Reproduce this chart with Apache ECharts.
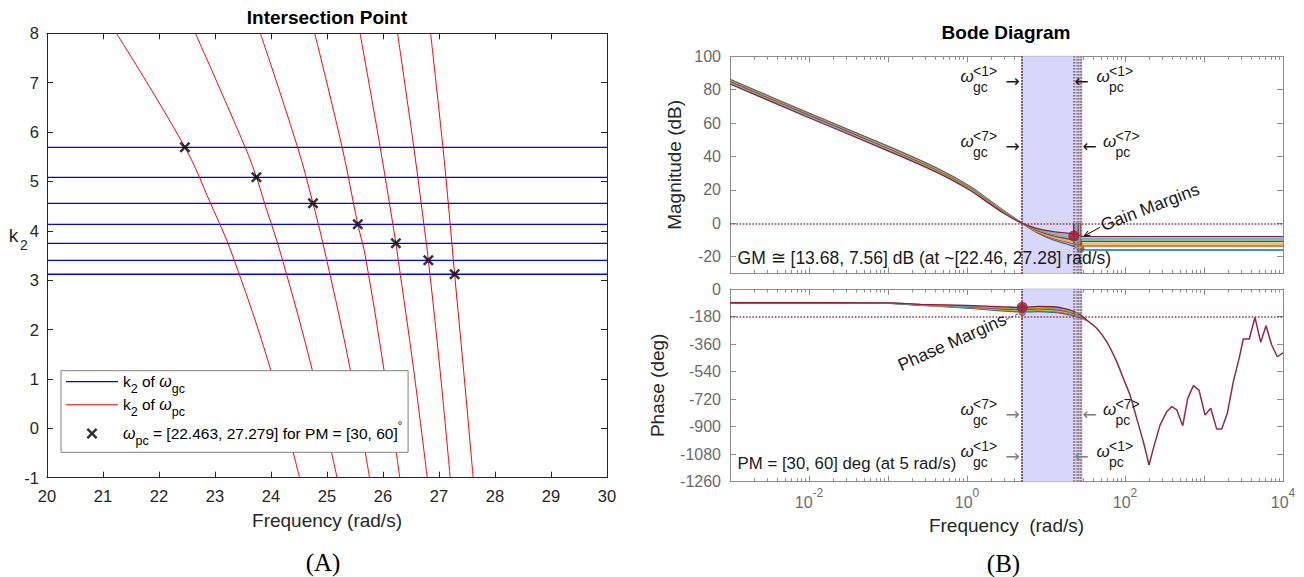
<!DOCTYPE html>
<html><head><meta charset="utf-8">
<script src="https://cdn.jsdelivr.net/npm/echarts@6/dist/echarts.min.js"></script>
<style>html,body{margin:0;padding:0;background:#fff}#c{width:1304px;height:577px}</style>
</head><body><div id="c"></div>
<script>
// ================= Panel (A) data =================
const k2Gc = [5.691, 5.084, 4.557, 4.132, 3.747, 3.403, 3.120];           // k2 of w_gc (horizontal lines)
const wpcMarks = [22.463, 23.74, 24.75, 25.55, 26.23, 26.81, 27.279];     // intersection frequencies
const pcCurve1 = [[21.24,8],[22.463,5.691],[22.92,4.557],[23.31,3.51],[24.0,1.167],[24.51,-1]];
const pcCurve2 = [[22.65,8],[23.54,5.69],[23.74,5.084],[23.886,4.557],[24.18,3.51],[24.74,1.167],[25.18,-1]];
const pcCurve3 = [[23.81,8],[24.475,5.69],[24.75,4.557],[24.975,3.51],[25.42,1.167],[25.76,-1]];
const pcCurve4 = [[24.78,8],[25.27,5.69],[25.55,4.132],[25.68,3.51],[26.02,1.167],[26.30,-1]];
const pcCurve5 = [[25.59,8],[25.95,5.69],[26.23,3.747],[26.26,3.51],[26.55,1.167],[26.79,-1]];
const pcCurve6 = [[26.26,8],[26.55,5.69],[26.73,4.13],[26.81,3.403],[27.02,1.167],[27.20,-1]];
const pcCurve7 = [[26.85,8],[27.07,5.69],[27.20,4.13],[27.279,3.12],[27.44,1.167],[27.61,-1]];
const pcCurves = [pcCurve1, pcCurve2, pcCurve3, pcCurve4, pcCurve5, pcCurve6, pcCurve7];
const freqTicksA = [20,21,22,23,24,25,26,27,28,29,30];
const k2TicksA = [-1,0,1,2,3,4,5,6,7,8];

// ================= Panel (B) data =================
const sysColors = ['#0072BD','#D95319','#EDB120','#7E2F8E','#77AC30','#4DBEEE','#A2142F'];
const magFreq = [0.001, 0.01, 0.1, 0.41, 1.09, 1.77, 2.88, 5, 7.6, 12.4, 20.2, 25, 30, 40, 100, 1000, 10000];
const mag1 = [86.2, 66.0, 46.2, 33.2, 22.2, 15.0, 7.8, 0, -5.5, -10.0, -13.0, -14.6, -15.8, -16.0, -16.0, -16.0, -16.0];
const mag2 = [85.7, 65.5, 45.7, 32.8, 21.8, 14.7, 7.5, 0, -5.1, -9.2, -11.9, -13.0, -13.6, -13.6, -13.6, -13.6, -13.6];
const mag3 = [85.3, 65.1, 45.3, 32.3, 21.4, 14.3, 7.3, 0, -4.7, -8.4, -10.8, -11.8, -12.4, -12.4, -12.4, -12.4, -12.4];
const mag4 = [84.8, 64.6, 44.8, 31.9, 21.0, 14.0, 7.0, 0, -4.2, -7.5, -9.6, -10.4, -11.0, -11.0, -11.0, -11.0, -11.0];
const mag5 = [84.3, 64.1, 44.3, 31.5, 20.6, 13.7, 6.7, 0, -3.8, -6.7, -8.4, -9.3, -10.0, -10.0, -10.0, -10.0, -10.0];
const mag6 = [83.9, 63.7, 43.9, 31.0, 20.2, 13.3, 6.5, 0, -3.4, -5.8, -7.2, -8.1, -9.0, -9.0, -9.0, -9.0, -9.0];
const mag7 = [83.4, 63.2, 43.4, 30.6, 19.8, 13.0, 6.2, 0, -3.0, -5.0, -6.0, -7.0, -7.9, -8.0, -8.0, -8.0, -8.0];
const magVals = [mag1, mag2, mag3, mag4, mag5, mag6, mag7];

const phaseFreq = [0.001, 0.01, 0.05, 0.1, 0.26, 1, 3, 5, 8, 12.4, 16.7, 22, 28.2, 32.7];
const ph1 = [-90, -90, -90.5, -93, -107, -125, -145, -150, -148, -153, -161, -174, -192, -203];
const ph2 = [-90, -90, -90.4, -92.7, -105.8, -122, -140, -145, -142, -147, -155, -169, -189, -203];
const ph3 = [-90, -90, -90.4, -92.3, -104.7, -119, -136, -140, -136, -141, -149, -164, -186, -203];
const ph4 = [-90, -90, -90.3, -92, -103.5, -116.5, -131, -135, -130.5, -135, -143.5, -159, -183, -203];
const ph5 = [-90, -90, -90.3, -91.7, -102.3, -114, -126, -130, -125, -129, -138, -154, -180, -203];
const ph6 = [-90, -90, -90.2, -91.3, -101.2, -111, -122, -125, -119, -122, -132, -149, -177, -203];
const ph7 = [-90, -90, -90.2, -91, -100, -108, -117, -120, -113, -116, -126, -144, -174, -203];
const phaseVals = [ph1, ph2, ph3, ph4, ph5, ph6, ph7];
// common high-frequency phase (all systems coincide)
const tailFreqA = [32.7, 43.8, 58.6, 78.5, 95.1, 115.6, 140.6, 170.6, 201.4];
const tailPhaseA = [-203, -257, -344, -475, -584, -693, -846, -999, -1151];
const tailFreqB = [201.4, 228.5, 277.5, 337.3, 390.6, 451.6, 538.3, 622.4, 734.5, 865.6, 1031, 1217, 1449, 1676, 1973, 2350, 2799, 3143, 3743, 4421, 5224, 6095, 7195, 8469, 10000];
const tailPhaseB = [-1151, -1042, -890, -802, -769, -790, -894, -715, -632, -661, -824, -780, -916, -916, -813, -606, -449, -327, -327, -185, -349, -240, -366, -443, -417];

const gmFreq = [27.279, 26.81, 26.23, 25.55, 24.75, 23.74, 22.463];
const gmVal  = [-15.4, -14.0, -12.9, -11.6, -10.4, -9.1, -7.56];
const pmFreq = [5, 5, 5, 5, 5, 5, 5];
const pmVal  = [-150, -145, -140, -135, -130, -125, -120];
const bandFreq = [5, 28.5];

const magTickVals = [-20, 0, 20, 40, 60, 80, 100];
const phaseTickVals = [-1260, -1080, -900, -720, -540, -360, -180, 0];
const decadeTicks = [0.001, 0.01, 0.1, 1, 10, 100, 1000, 10000];
const freqLabelVals = [0.01, 1, 100, 10000];
const minorTicks = [];
for (let e = -3; e < 4; e++) for (let m = 2; m <= 9; m++) minorTicks.push(+(m * Math.pow(10, e)).toPrecision(3));

// ================= styling =================
const FF = '"Liberation Sans", Arial, Helvetica, sans-serif';
const DARK = '#262626';
const GRAYAX = '#8c8c8c';
const GRAYLB = '#6b6b6b';
const REFDOT = '#8b3a50';

const chart = echarts.init(document.getElementById('c'), null, {renderer: 'svg', width: 1304, height: 577});

const grids = [
  {left: 47, top: 33.3, width: 560, height: 444.4, outerBoundsMode: 'none'},
  {left: 730, top: 56.3, width: 553, height: 217.1, outerBoundsMode: 'none'},
  {left: 730, top: 289, width: 553, height: 192.7, outerBoundsMode: 'none'}
];

function logAxis(grid, pos, minor, withLabels) {
  const ax = {
    gridIndex: grid, type: 'log', logBase: 10, min: 0.001, max: 10000, position: pos,
    axisLine: {show: !minor, onZero: false, lineStyle: {color: GRAYAX, width: 1}},
    axisTick: {show: true, inside: true, length: minor ? 3.5 : 6, customValues: minor ? minorTicks : decadeTicks,
               lineStyle: {color: GRAYAX, width: 1}},
    axisLabel: {show: false},
    splitLine: {show: false}, minorTick: {show: false}, minorSplitLine: {show: false}
  };
  if (withLabels) {
    ax.axisLabel = {
      show: true, customValues: freqLabelVals, margin: 5,
      formatter: v => '{b|10}{s|' + Math.round(Math.log10(v)) + '}',
      rich: {
        b: {fontSize: 16, fontFamily: FF, color: GRAYLB, lineHeight: 31},
        s: {fontSize: 12, fontFamily: FF, color: GRAYLB, verticalAlign: 'top'}
      }
    };
    ax.name = 'Frequency  (rad/s)';
    ax.nameLocation = 'middle';
    ax.nameGap = 34;
    ax.nameTextStyle = {fontSize: 19, fontFamily: FF, color: DARK};
  }
  return ax;
}

const plain = v => String(v);

const xAxes = [
  {gridIndex: 0, type: 'value', min: 20, max: 30, interval: 1, position: 'bottom',
   axisLine: {onZero: false, lineStyle: {color: DARK}}, axisTick: {inside: true, length: 6, lineStyle: {color: DARK}},
   axisLabel: {margin: 10, fontSize: 16.5, fontFamily: FF, color: DARK, customValues: freqTicksA, formatter: plain},
   splitLine: {show: false},
   name: 'Frequency (rad/s)', nameLocation: 'middle', nameGap: 33,
   nameTextStyle: {fontSize: 19, fontFamily: FF, color: DARK}},
  {gridIndex: 0, type: 'value', min: 20, max: 30, interval: 1, position: 'top',
   axisLine: {onZero: false, lineStyle: {color: DARK}}, axisTick: {inside: true, length: 6, lineStyle: {color: DARK}},
   axisLabel: {show: false}, splitLine: {show: false}},
  logAxis(1, 'bottom', false, false),
  logAxis(1, 'top', false, false),
  logAxis(1, 'bottom', true, false),
  logAxis(1, 'top', true, false),
  logAxis(2, 'bottom', false, true),
  logAxis(2, 'top', false, false),
  logAxis(2, 'bottom', true, false),
  logAxis(2, 'top', true, false)
];

const yAxes = [
  {gridIndex: 0, type: 'value', min: -1, max: 8, interval: 1, position: 'left',
   axisLine: {onZero: false, lineStyle: {color: DARK}}, axisTick: {inside: true, length: 6, lineStyle: {color: DARK}},
   axisLabel: {margin: 8, fontSize: 16.5, fontFamily: FF, color: DARK, customValues: k2TicksA, formatter: plain},
   splitLine: {show: false}},
  {gridIndex: 0, type: 'value', min: -1, max: 8, interval: 1, position: 'right',
   axisLine: {onZero: false, lineStyle: {color: DARK}}, axisTick: {inside: true, length: 6, lineStyle: {color: DARK}},
   axisLabel: {show: false}, splitLine: {show: false}},
  {gridIndex: 1, type: 'value', min: -30, max: 100, position: 'left',
   axisLine: {onZero: false, lineStyle: {color: GRAYAX}},
   axisTick: {inside: true, length: 6, customValues: magTickVals, lineStyle: {color: GRAYAX}},
   axisLabel: {margin: 9, fontSize: 16, fontFamily: FF, color: GRAYLB, customValues: magTickVals, formatter: plain},
   splitLine: {show: false},
   name: 'Magnitude (dB)', nameLocation: 'middle', nameGap: 46,
   nameTextStyle: {fontSize: 19, fontFamily: FF, color: DARK}},
  {gridIndex: 1, type: 'value', min: -30, max: 100, position: 'right',
   axisLine: {onZero: false, lineStyle: {color: GRAYAX}},
   axisTick: {inside: true, length: 6, customValues: magTickVals, lineStyle: {color: GRAYAX}},
   axisLabel: {show: false}, splitLine: {show: false}},
  {gridIndex: 2, type: 'value', min: -1260, max: 0, interval: 180, position: 'left',
   axisLine: {onZero: false, lineStyle: {color: GRAYAX}},
   axisTick: {inside: true, length: 6, lineStyle: {color: GRAYAX}},
   axisLabel: {margin: 9, fontSize: 16, fontFamily: FF, color: GRAYLB, customValues: phaseTickVals, formatter: plain},
   splitLine: {show: false},
   name: 'Phase (deg)', nameLocation: 'middle', nameGap: 63,
   nameTextStyle: {fontSize: 19, fontFamily: FF, color: DARK}},
  {gridIndex: 2, type: 'value', min: -1260, max: 0, interval: 180, position: 'right',
   axisLine: {onZero: false, lineStyle: {color: GRAYAX}},
   axisTick: {inside: true, length: 6, lineStyle: {color: GRAYAX}},
   axisLabel: {show: false}, splitLine: {show: false}}
];

const GC_NAME = 'k2 of ωgc';
const PC_NAME = 'k2 of ωpc';
const MARK_NAME = 'ωpc = [22.463, 27.279] for PM = [30, 60]°';
const XPATH = 'path://M0,1.6 L1.6,0 L5,3.4 L8.4,0 L10,1.6 L6.6,5 L10,8.4 L8.4,10 L5,6.6 L1.6,10 L0,8.4 L3.4,5 Z';
const LINEICON = 'path://M0,0 L52,0 L52,1.2 L0,1.2 Z';

const series = [];
// ---- panel A
k2Gc.forEach(k => series.push({
  type: 'line', name: GC_NAME, xAxisIndex: 0, yAxisIndex: 0, data: [[20, k], [30, k]],
  symbol: 'none', lineStyle: {color: '#0000ff', width: 1.3}, itemStyle: {color: '#0000ff'}, z: 2, silent: true
}));
pcCurves.forEach(c => series.push({
  type: 'line', name: PC_NAME, xAxisIndex: 0, yAxisIndex: 0, data: c, smooth: 0.4,
  symbol: 'none', lineStyle: {color: '#ff0000', width: 1}, itemStyle: {color: '#ff0000'}, z: 2, silent: true
}));
series.push({
  type: 'scatter', name: MARK_NAME, xAxisIndex: 0, yAxisIndex: 0,
  data: wpcMarks.map((f, i) => [f, k2Gc[i]]), symbol: XPATH, symbolSize: 11,
  itemStyle: {color: '#000'}, z: 5, silent: true
});

// ---- panel B helpers: shaded band + reference lines
series.push({
  type: 'line', name: 'bandMag', xAxisIndex: 2, yAxisIndex: 2, data: [], z: 1, silent: true,
  markArea: {silent: true, itemStyle: {color: '#d7d7fb', borderColor: '#c4c4dc', borderWidth: 1},
             data: [[{xAxis: bandFreq[0]}, {xAxis: bandFreq[1]}]]},
  markLine: {silent: true, symbol: 'none', label: {show: false}, animation: false,
             lineStyle: {color: REFDOT, type: 'dotted', width: 1.6}, data: [{yAxis: 0}]}
});
series.push({
  type: 'line', name: 'bandPh', xAxisIndex: 6, yAxisIndex: 4, data: [], z: 1, silent: true,
  markArea: {silent: true, itemStyle: {color: '#d7d7fb', borderColor: '#c4c4dc', borderWidth: 1},
             data: [[{xAxis: bandFreq[0]}, {xAxis: bandFreq[1]}]]},
  markLine: {silent: true, symbol: 'none', label: {show: false}, animation: false,
             lineStyle: {color: REFDOT, type: 'dotted', width: 1.6}, data: [{yAxis: -180}]}
});

sysColors.forEach((col, i) => {
  const ml = {silent: true, symbol: 'none', label: {show: false}, animation: false,
              lineStyle: {color: col, type: 'dotted', width: 1.5, opacity: 0.85},
              data: [{xAxis: pmFreq[i]}, {xAxis: gmFreq[i]}]};
  series.push({
    type: 'line', name: 'mag' + (i + 1), xAxisIndex: 2, yAxisIndex: 2,
    data: magFreq.map((f, j) => [f, magVals[i][j]]), smooth: 0.3,
    symbol: 'none', lineStyle: {color: col, width: 1.3}, itemStyle: {color: col}, z: 3, silent: true,
    markLine: ml
  });
  series.push({
    type: 'line', name: 'ph' + (i + 1), xAxisIndex: 6, yAxisIndex: 4,
    data: phaseFreq.map((f, j) => [f, phaseVals[i][j]]), smooth: 0.3,
    symbol: 'none', lineStyle: {color: col, width: 1.3}, itemStyle: {color: col}, z: 3, silent: true,
    markLine: ml
  });
  series.push({
    type: 'line', name: 'gmLine' + (i + 1), xAxisIndex: 2, yAxisIndex: 2,
    data: [[gmFreq[i], 0], [gmFreq[i], gmVal[i]]], symbol: 'none',
    lineStyle: {color: col, width: 1.5}, z: 3, silent: true
  });
});
series.push({
  type: 'line', name: 'phTailA', xAxisIndex: 6, yAxisIndex: 4,
  data: tailFreqA.map((f, j) => [f, tailPhaseA[j]]), smooth: 0.3, symbol: 'none',
  lineStyle: {color: '#922a4a', width: 1.5}, z: 3, silent: true
});
series.push({
  type: 'line', name: 'phTailB', xAxisIndex: 6, yAxisIndex: 4,
  data: tailFreqB.map((f, j) => [f, tailPhaseB[j]]), symbol: 'none',
  lineStyle: {color: '#922a4a', width: 1.5}, z: 3, silent: true
});
// margin markers
series.push({
  type: 'scatter', name: 'gmMarks', xAxisIndex: 2, yAxisIndex: 2, z: 4, silent: true, symbolSize: 8,
  data: gmFreq.slice(0, 6).map((f, i) => ({value: [f, gmVal[i]], itemStyle: {color: sysColors[i]}}))
});
series.push({
  type: 'scatter', name: 'gmBig', xAxisIndex: 2, yAxisIndex: 2, z: 5, silent: true, symbolSize: 11,
  data: [[gmFreq[6], gmVal[6]]], itemStyle: {color: sysColors[6]}
});
series.push({
  type: 'scatter', name: 'pmMarks', xAxisIndex: 6, yAxisIndex: 4, z: 4, silent: true, symbolSize: 8,
  data: pmFreq.slice(0, 6).map((f, i) => ({value: [f, pmVal[i]], itemStyle: {color: sysColors[i]}}))
});
series.push({
  type: 'scatter', name: 'pmBig', xAxisIndex: 6, yAxisIndex: 4, z: 5, silent: true, symbolSize: 11,
  data: [[pmFreq[6], pmVal[6]]], itemStyle: {color: sysColors[6]}
});

// ---- text annotations
const el = [];
function txt(x, y, text, size, o) {
  o = o || {};
  el.push({type: 'text', x: x, y: y, rotation: o.rot || 0, z: 100, silent: true,
    style: {text: text, fontSize: size, fontFamily: o.ff || FF, fontStyle: o.fs || 'normal',
            fontWeight: o.fw || 'normal', fill: o.fill || '#1a1a1a', align: o.align || 'left', verticalAlign: 'middle'}});
}
function omegaLab(xw, W, sup, sub) {
  txt(xw, W, 'ω', 17, {fs: 'italic'});
  txt(xw + 12.5, W - 5.2, sup, 14);
  txt(xw + 12.5, W + 10.2, sub, 14);
}
const ARF = '"DejaVu Sans", sans-serif';
// magnitude annotations
omegaLab(960.5, 76.3, '<1>', 'gc');
txt(1012.5, 80.7, '→', 17, {ff: ARF, align: 'center'});
txt(1081.5, 80.7, '←', 17, {ff: ARF, align: 'center'});
omegaLab(1096.5, 76.3, '<1>', 'pc');
omegaLab(960.5, 141.6, '<7>', 'gc');
txt(1012.5, 146, '→', 17, {ff: ARF, align: 'center'});
txt(1089.5, 146, '←', 17, {ff: ARF, align: 'center'});
omegaLab(1103, 141.6, '<7>', 'pc');
// phase annotations
omegaLab(960.5, 409.6, '<7>', 'gc');
txt(1012.5, 414, '→', 17, {ff: ARF, align: 'center', fill: '#7f7f7f'});
txt(1089.5, 414, '←', 17, {ff: ARF, align: 'center', fill: '#7f7f7f'});
omegaLab(1103, 409.6, '<7>', 'pc');
omegaLab(960.5, 451.3, '<1>', 'gc');
txt(1012.5, 455.7, '→', 17, {ff: ARF, align: 'center', fill: '#7f7f7f'});
txt(1081.5, 455.7, '←', 17, {ff: ARF, align: 'center', fill: '#7f7f7f'});
omegaLab(1096.5, 451.3, '<1>', 'pc');

txt(737.6, 258, 'GM ≅ [13.68, 7.56] dB (at ~[22.46, 27.28] rad/s)', 17.5);
txt(737.6, 463, 'PM = [30, 60] deg (at 5 rad/s)', 16.8);
txt(1150, 207, 'Gain Margins', 17.5, {align: 'center', rot: 21 * Math.PI / 180});
txt(952, 342, 'Phase Margins', 17.5, {align: 'center', rot: 24 * Math.PI / 180});
el.push({type: 'line', z: 100, silent: true, shape: {x1: 1100, y1: 227.3, x2: 1085, y2: 235.5}, style: {stroke: '#000', lineWidth: 1}});
el.push({type: 'polyline', z: 100, silent: true, shape: {points: [[1090.5, 235.3], [1084, 236], [1088.1, 230.9]]}, style: {stroke: '#000', lineWidth: 1, fill: null}});
el.push({type: 'line', z: 100, silent: true, shape: {x1: 1006, y1: 319.5, x2: 1019, y2: 313.5}, style: {stroke: '#444', lineWidth: 1, lineDash: [3, 2]}});
// left y label k2
txt(13.5, 235, 'k', 19, {align: 'center', fill: DARK});
txt(23.8, 245, '2', 14, {align: 'center', fill: DARK});
// panel tags
txt(323, 562, '(A)', 25, {ff: '"Liberation Serif", "Times New Roman", serif', align: 'center', fill: '#000'});
txt(1003.5, 563, '(B)', 25, {ff: '"Liberation Serif", "Times New Roman", serif', align: 'center', fill: '#000'});

const legendRich = {};
legendRich[GC_NAME] = '{t|k}{sub|2}{t| of }{w|ω}{sub|gc}';
legendRich[PC_NAME] = '{t|k}{sub|2}{t| of }{w|ω}{sub|pc}';
legendRich[MARK_NAME] = '{w|ω}{sub|pc}{t| = [22.463, 27.279] for PM = [30, 60]}{sup|°}';

const option = {
  animation: false,
  backgroundColor: '#fff',
  title: [
    {text: 'Intersection Point', left: 327, top: 8, textAlign: 'center', padding: 0,
     textStyle: {fontSize: 19, fontWeight: 'bold', color: '#000', fontFamily: FF}},
    {text: 'Bode Diagram', left: 1006, top: 23, textAlign: 'center', padding: 0,
     textStyle: {fontSize: 19, fontWeight: 'bold', color: '#000', fontFamily: FF}}
  ],
  grid: grids,
  xAxis: xAxes,
  yAxis: yAxes,
  legend: {
    left: 61, top: 370.7, orient: 'vertical', selectedMode: false,
    padding: [3, 6, 5, 5], itemGap: 1.3, itemWidth: 52, itemHeight: 11,
    backgroundColor: '#fff', borderColor: '#808080', borderWidth: 1, borderRadius: 0,
    data: [{name: GC_NAME, icon: LINEICON, itemStyle: {color: '#0000ff'}},
           {name: PC_NAME, icon: LINEICON, itemStyle: {color: '#ff0000'}},
           {name: MARK_NAME, icon: XPATH, itemStyle: {color: '#000'}}],
    formatter: name => legendRich[name],
    textStyle: {
      fontSize: 15.5, fontFamily: FF, color: '#000',
      rich: {
        t: {fontSize: 15.5, fontFamily: FF, color: '#000', lineHeight: 27.5},
        w: {fontSize: 16, fontFamily: FF, fontStyle: 'italic', color: '#000', lineHeight: 27.5},
        sub: {fontSize: 12.5, fontFamily: FF, color: '#000', verticalAlign: 'bottom'},
        sup: {fontSize: 11, fontFamily: FF, color: '#000', verticalAlign: 'top'}
      }
    }
  },
  graphic: el,
  series: series
};
chart.setOption(option);
</script>
</body></html>
